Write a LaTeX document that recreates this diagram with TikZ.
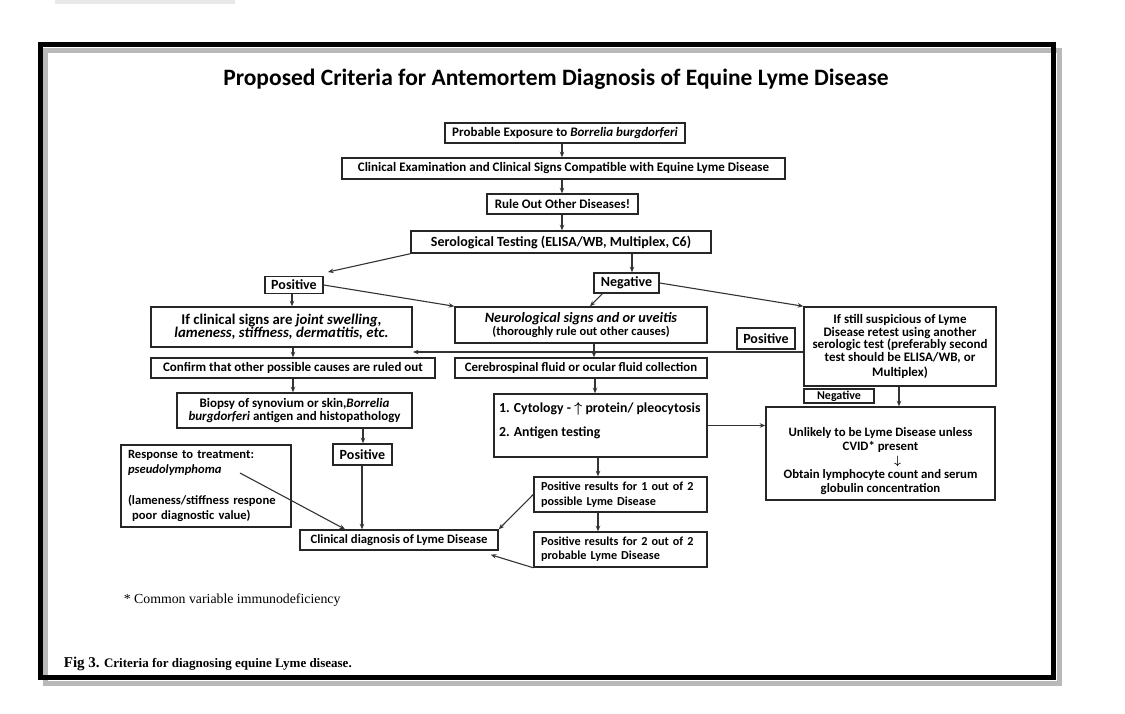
\documentclass[tikz,border=0pt]{standalone}
\usepackage{fontspec}
\setmainfont{Carlito}
\newfontfamily\timesfont{Liberation Serif}
\usetikzlibrary{arrows.meta, positioning}
\def\boxfont{\fontsize{13}{15}\selectfont\bfseries}

\begin{document}
\begin{tikzpicture}[x=1pt, y=-1pt, ->, >={Stealth[length=5.5pt,width=4.5pt]}, draw=black!80, line width=1.1pt]
    \tikzstyle{box}=[draw=black!85, line width=1.5pt, fill=white, inner sep=0pt, align=center, text=black, font=\boxfont]
    \tikzstyle{leftbox}=[box, align=left, inner xsep=7pt]
    \tikzstyle{tag}=[box, font=\fontsize{14}{16}\selectfont\bfseries]

    \useasboundingbox (0,0) rectangle (1125,713);

    % Draw the frame with its shadow
    \fill[gray!18] (55,0) rectangle (235,4);
    \draw[-, gray!55, line width=5pt] (45,50) rectangle (1059,683);
    \draw[-, black, line width=5pt] (40,44) rectangle (1053,677);

    \node[font=\fontsize{23.5}{26}\selectfont\bfseries] (title) at (556,79) {Proposed Criteria for Antemortem Diagnosis of Equine Lyme Disease};

    % Draw the main column
    \node[box, minimum width=240pt, minimum height=20pt] (expo) at (565,133) {Probable Exposure to \textit{Borrelia burgdorferi}};
    \node[box, minimum width=443pt, minimum height=21pt] (exam) at (563.5,168.5) {Clinical Examination and Clinical Signs Compatible with Equine Lyme Disease};
    \node[box, minimum width=151pt, minimum height=20pt] (ruleout) at (562.5,204) {Rule Out Other Diseases!};
    \node[box, minimum width=300pt, minimum height=22pt, font=\fontsize{14}{16}\selectfont\bfseries] (sero) at (561,242) {Serological Testing (ELISA/WB, Multiplex, C6)};

    \node[tag, minimum width=58pt, minimum height=17pt] (posA) at (294,285) {Positive};
    \node[tag, minimum width=65pt, minimum height=20pt] (negA) at (626.5,283) {Negative};

    % Draw the second row
    \node[box, minimum width=261pt, minimum height=40pt, font=\fontsize{14.8}{13.5}\selectfont\bfseries] (joint) at (281.5,327) {If clinical signs are \textit{joint swelling,}\\\textit{lameness, stiffness, dermatitis, etc.}};
    \node[box, minimum width=252pt, minimum height=36pt, font=\fontsize{12.5}{14}\selectfont\bfseries] (neuro) at (581,325) {{\fontsize{14.3}{15}\selectfont\itshape Neurological signs and or uveitis}\\[-0.5pt]{\fontsize{12.5}{14}\selectfont(thoroughly rule out other causes)}};
    \node[box, minimum width=192pt, minimum height=79pt, font=\fontsize{13}{12.5}\selectfont\bfseries] (retest) at (900,346.5) {If still suspicious of Lyme\\Disease retest using another\\serologic test (preferably second\\test should be ELISA/WB, or\\[2.5pt]Multiplex)};
    \node[tag, minimum width=58pt, minimum height=21pt] (posR) at (766,338.5) {Positive};

    \node[box, minimum width=284pt, minimum height=20pt] (confirm) at (293,368) {Confirm that other possible causes are ruled out};
    \node[box, minimum width=252pt, minimum height=20pt, font=\fontsize{12.8}{14}\selectfont\bfseries] (csf) at (581,368) {Cerebrospinal fluid or ocular fluid collection};

    \node[box, minimum width=235pt, minimum height=35pt, font=\fontsize{13}{13}\selectfont\bfseries] (biopsy) at (294.5,410.5) {Biopsy of synovium or skin,\textit{Borrelia}\\\textit{burgdorferi} antigen and histopathology};
    \node[box, minimum width=213pt, minimum height=63pt, font=\fontsize{13.8}{14}\selectfont\bfseries] (cyto) at (600.5,425.5) {\parbox[t][59pt][t]{203pt}{\vspace*{6pt}1. Cytology - {\boldmath$\uparrow$} protein/ pleocytosis\\[10pt]2. Antigen testing}};
    \node[box, minimum width=70pt, minimum height=14pt, font=\fontsize{12}{12}\selectfont\bfseries] (negR) at (839,396) {Negative};
    \node[box, minimum width=229pt, minimum height=93pt, font=\fontsize{12.8}{13.8}\selectfont\bfseries] (unlikely) at (880.5,453.5) {\parbox[c][89pt][t]{221pt}{\centering\vspace*{19pt}Unlikely to be Lyme Disease unless\\CVID* present\\\hspace*{34pt}{\boldmath$\downarrow$}\\Obtain lymphocyte count and serum\\globulin concentration}};

    % Draw the lower boxes
    \node[leftbox, text width=156pt, minimum height=82pt, font=\fontsize{12.6}{15}\selectfont\bfseries] (response) at (206,486) {Response to treatment:\\\textit{pseudolymphoma}\\[16pt](lameness/stiffness respone\\\ poor diagnostic value)};
    \node[tag, minimum width=59pt, minimum height=21pt] (posB) at (362.5,454.5) {Positive};
    \node[leftbox, text width=159pt, minimum height=35pt, font=\fontsize{12.2}{15}\selectfont\bfseries] (onetwo) at (620.5,494.5) {Positive results for 1 out of 2\\possible Lyme Disease};
    \node[leftbox, text width=159pt, minimum height=35pt, font=\fontsize{12.2}{14}\selectfont\bfseries] (twotwo) at (620.5,549.5) {Positive results for 2 out of 2\\probable Lyme Disease};
    \node[box, minimum width=198pt, minimum height=20pt, font=\fontsize{12.7}{14}\selectfont\bfseries] (clindx) at (399,540) {Clinical diagnosis of Lyme Disease};

    % Draw the notes
    \node[anchor=west, font=\timesfont\fontsize{13.8}{15}\selectfont] (note) at (120,600) {* Common variable immunodeficiency};
    \node[anchor=west, font=\timesfont\bfseries\fontsize{13}{15}\selectfont] (caption) at (60,664) {{\fontsize{15}{15}\selectfont Fig 3.} Criteria for diagnosing equine Lyme disease.};

    % Free ends of connectors
    \coordinate (posAin) at (328,272);
    \coordinate (retout) at (413,352);
    \coordinate (respout) at (240,473);

    % Connect the boxes straight down
    \foreach \src/\dst/\x in {expo/exam/562, exam/ruleout/562, ruleout/sero/562, sero/negA/632,
                              posA/joint/292, joint/confirm/293, confirm/biopsy/293, biopsy/posB/363,
                              posB/clindx/362, neuro/csf/594, csf/cyto/595, cyto/onetwo/598,
                              onetwo/twotwo/598, retest/unlikely/899}
        \draw (\x,0 |- \src.south) -- (\x,0 |- \dst.north);

    % Connect the slanted and side branches
    \draw (sero.south west) -- (posAin);
    \draw (posA.east) -- (neuro.north west);
    \draw ([xshift=9pt]negA.south west) -- (590,0 |- neuro.north);
    \draw (negA.east) -- (retest.north west);
    \draw (retest.west |- retout) -- (retout);
    \draw (cyto.east) -- (cyto.east -| unlikely.west);
    \draw (respout) -- (345,0 |- clindx.north);
    \draw (onetwo.west) -- (clindx.north east);
    \draw (twotwo.south west) -- ([xshift=-8pt,yshift=-4pt]clindx.south east);
\end{tikzpicture}
\end{document}
